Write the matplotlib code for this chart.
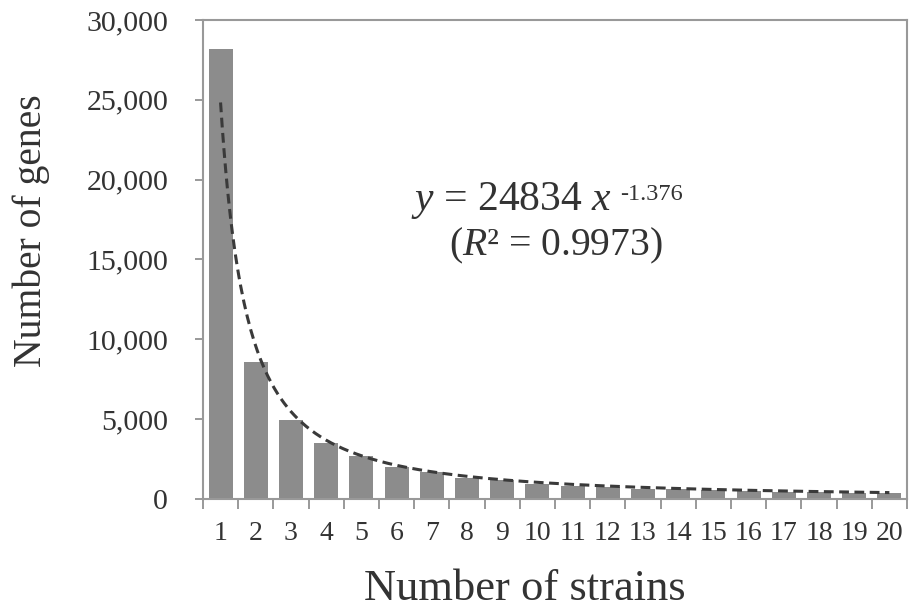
import matplotlib
matplotlib.use("Agg")
import matplotlib.pyplot as plt
import numpy as np
from matplotlib.ticker import FuncFormatter

strains = list(range(1, 21))
genes = [28200, 8600, 4950, 3530, 2700, 2000, 1720, 1340, 1160, 950,
         830, 770, 640, 610, 570, 510, 450, 430, 380, 370]
fit_a = 24834
fit_b = -1.376

plt.rcParams['font.family'] = ['Liberation Serif', 'DejaVu Serif']
plt.rcParams['mathtext.fontset'] = 'custom'
plt.rcParams['mathtext.rm'] = 'Liberation Serif'
plt.rcParams['mathtext.it'] = 'Liberation Serif:italic'

W, H = 913, 609
fig = plt.figure(figsize=(W / 100, H / 100), dpi=100)
ax = fig.add_axes([0.2223, 0.1806, 0.9934 - 0.2223, 0.9672 - 0.1806])

ax.bar(strains, genes, width=0.68, color='#8c8c8c', zorder=2)
xs = np.linspace(1, 20, 400)
ax.plot(xs, fit_a * xs ** fit_b, ls=(0, (3.2, 1.8)), color='#3a3a3a', lw=2.2, zorder=3)

ax.set_xlim(0.5, 20.5)
ax.set_ylim(0, 30000)
ax.set_yticks(range(0, 30001, 5000))
ax.yaxis.set_major_formatter(FuncFormatter(lambda v, p: f"{int(v):,}"))
ax.set_xticks([i + 0.5 for i in range(0, 21)])
ax.set_xticklabels([])
ax.set_xticks(strains, minor=True)
ax.set_xticklabels([str(s) for s in strains], minor=True)
ax.tick_params(axis='x', which='minor', length=0, labelsize=20, pad=16, colors='#333333')
ax.tick_params(axis='x', which='major', length=7, width=1.2, color='#888888', direction='out')
ax.tick_params(axis='y', length=6, width=1.2, color='#888888', labelsize=21.5, labelcolor='#333333', pad=19)
for s in ax.spines.values():
    s.set_color('#999999')
    s.set_linewidth(1.5)

ax.set_xlabel('Number of strains', fontsize=32, color='#333333', va='top')
ax.xaxis.set_label_coords(0.457, -0.147)
ax.set_ylabel('Number of genes', fontsize=28.5, color='#333333')
ax.yaxis.set_label_coords(-0.217, 0.561)

base_y = 18097
t1 = ax.text(12.12, base_y, r'$y$ = 24834 $x$', fontsize=30, ha='right', va='baseline', color='#333333')
ax.text(10.53, 15280, r'($R$² = 0.9973)', fontsize=28.5, ha='center', va='baseline', color='#333333')

fig.canvas.draw()
bb = t1.get_window_extent()
y_disp = ax.transData.transform((0, base_y))[1] + 10
fig.text((bb.x1 + 8) / W, y_disp / H, '-1.376', fontsize=17.5, ha='left', va='baseline', color='#333333')

fig.savefig('out.png', dpi=100, facecolor='white')
